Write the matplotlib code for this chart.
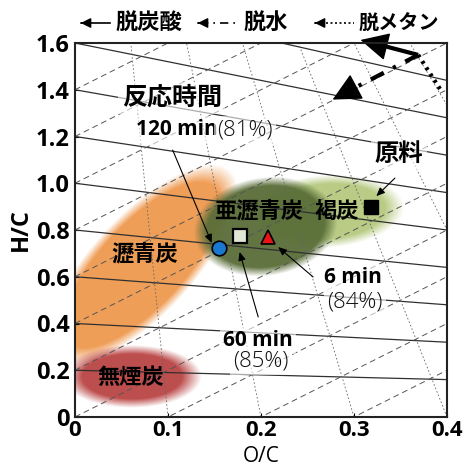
import matplotlib
matplotlib.use("Agg")
import matplotlib.pyplot as plt
import numpy as np

JP = ["Noto Sans CJK JP", "DejaVu Sans"]
NUM = ["Open Sans", "DejaVu Sans"]

# axis ticks
X_TICKS = [0, 0.1, 0.2, 0.3, 0.4]
X_TICK_LABELS = ["0", "0.1", "0.2", "0.3", "0.4"]
Y_TICKS = [0, 0.2, 0.4, 0.6, 0.8, 1.0, 1.2, 1.4, 1.6]
Y_TICK_LABELS = ["0", "0.2", "0.4", "0.6", "0.8", "1.0", "1.2", "1.4", "1.6"]

# decarboxylation lines: H/C at O/C=0 and at O/C=0.4
DECARB_LEFT = [0.2, 0.4, 0.6, 0.8, 1.0, 1.2, 1.4, 1.6, 1.8, 2.0]
DECARB_RIGHT = [0.16, 0.32, 0.48, 0.64, 0.80, 0.96, 1.12, 1.28, 1.44, 1.60]
# dehydration lines: H/C = 2*O/C + offset
DEHYD_OFFSET = [-0.8, -0.6, -0.4, -0.2, 0.0, 0.2, 0.4, 0.6, 0.8, 1.0, 1.2, 1.4]
DEHYD_SLOPE = 2.0
# demethanation lines: from (O/C, 0) toward CH4 at (0, 4)
DEMETH_BASE = [0.1, 0.2, 0.3, 0.4, 0.5, 0.6, 0.7]
DEMETH_APEX = (0.0, 4.0)

# coal rank regions: name, centre O/C, centre H/C
REGION_NAMES = ["褐炭", "瀝青炭", "亜瀝青炭", "無煙炭"]
REGION_OC = [0.271, 0.072, 0.205, 0.061]
REGION_HC = [0.880, 0.650, 0.815, 0.172]
REGION_COLORS = [(0.71, 0.79, 0.50), (0.94, 0.60, 0.31),
                 (0.35, 0.43, 0.22), (0.73, 0.27, 0.27)]
# semi axes in screen pixels and tilt in degrees
REGION_SIZE = [(68, 32, 4), (118, 46, 47), (66, 45, 8), (60, 27, 0)]

# samples
FEED_OC, FEED_HC = 0.318, 0.898
T6_OC, T6_HC = 0.2075, 0.770
T60_OC, T60_HC = 0.177, 0.774
T120_OC, T120_HC = 0.155, 0.723

fig = plt.figure(figsize=(4.64, 4.66), dpi=100)
ax = fig.add_axes([75 / 464, 1 - 417 / 466, 372 / 464, 374 / 466])
ax.set_xlim(0, 0.4)
ax.set_ylim(0, 1.6)

# soft coloured regions rendered as one RGBA image
nx, ny = 372, 374
sx, sy = nx / 0.4, ny / 1.6
gx, gy = np.meshgrid(np.linspace(0, 0.4, nx), np.linspace(0, 1.6, ny))
img = np.zeros((ny, nx, 4))
for cx, cy, col, (a, b, ang) in zip(REGION_OC, REGION_HC, REGION_COLORS, REGION_SIZE):
    u = (gx - cx) * sx
    v = (gy - cy) * sy
    t = np.deg2rad(ang)
    ur = u * np.cos(t) + v * np.sin(t)
    vr = -u * np.sin(t) + v * np.cos(t)
    r = np.sqrt((ur / a) ** 2 + (vr / b) ** 2)
    alpha = np.clip(0.5 - (r - 1) * b / 9.0, 0, 1) * 0.95
    for k in range(3):
        img[..., k] = col[k] * alpha + img[..., k] * (1 - alpha)
    img[..., 3] = alpha + img[..., 3] * (1 - alpha)
rgb = np.where(img[..., 3:] > 0, img[..., :3] / np.maximum(img[..., 3:], 1e-6), 1)
img[..., :3] = np.clip(rgb, 0, 1)
ax.imshow(img, extent=(0, 0.4, 0, 1.6), origin="lower", aspect="auto",
          interpolation="bilinear", zorder=1)

# reference lines
for hl, hr in zip(DECARB_LEFT, DECARB_RIGHT):
    ax.plot([0, 0.4], [hl, hr], lw=0.9, color="#303030", zorder=2)
for c in DEHYD_OFFSET:
    ax.plot([0, 0.4], [c, DEHYD_SLOPE * 0.4 + c], lw=0.7, color="#555555",
            linestyle=(0, (6, 4)), zorder=2)
for x0 in DEMETH_BASE:
    ax.plot([x0, DEMETH_APEX[0]], [0, DEMETH_APEX[1]], lw=0.6, color="#666666",
            linestyle=(0, (2, 2.5)), zorder=2)

# reaction pathway arrows
head = dict(arrowstyle="-|>,head_length=0.9,head_width=0.45", color="black",
            lw=1, mutation_scale=20, shrinkA=0, shrinkB=0)
origin = (0.369, 1.549)
ax.plot([origin[0], 0.322], [origin[1], 1.598], color="black", lw=3,
        solid_capstyle="butt", zorder=5, clip_on=False)
ax.annotate("", xy=(0.307, 1.613), xytext=(0.322, 1.598), zorder=5,
            annotation_clip=False, arrowprops=head)
ax.plot([origin[0], 0.292], [origin[1], 1.39], color="black", lw=3,
        linestyle=(0, (3.5, 2.5, 0.8, 2.5)), zorder=5)
ax.annotate("", xy=(0.277, 1.358), xytext=(0.292, 1.39), zorder=5,
            arrowprops=head)
ax.plot([origin[0], 0.393], [origin[1], 1.40], color="black", lw=3,
        linestyle=(0, (0.7, 1.1)), zorder=5)
ax.annotate("", xy=(0.404, 1.34), xytext=(0.393, 1.40), zorder=5,
            arrowprops=head)

# sample points
ax.plot(FEED_OC, FEED_HC, "s", ms=9.5, color="black", zorder=6)
ax.plot(T120_OC, T120_HC, "o", ms=10.5, mfc="#1b78d0", mec="black", mew=1.2, zorder=6)
ax.plot(T60_OC, T60_HC, "s", ms=10, mfc="#dfe6d6", mec="black", mew=1.6, zorder=6)
ax.plot(T6_OC, T6_HC, "^", ms=9.5, mfc="#e8141a", mec="black", mew=1.2, zorder=6)

# region labels
for name, x, y in zip(REGION_NAMES, [0.282, 0.075, 0.198, 0.060],
                      [0.881, 0.697, 0.881, 0.167]):
    ax.text(x, y, name, family=JP, weight="bold", fontsize=16,
            ha="center", va="center", zorder=7)

box = dict(boxstyle="square,pad=0.15", fc="white", ec="none", alpha=0.6)
arrow_kw = dict(arrowstyle="-|>,head_length=0.5,head_width=0.22",
                color="black", lw=0.8, mutation_scale=10, shrinkA=0, shrinkB=0)
bold_kw = dict(family=NUM, weight="bold", fontsize=15, va="center", zorder=7, bbox=box)
thin_kw = dict(family=NUM, weight="light", fontsize=16, color="#111111",
               va="center", zorder=7, bbox=box)

ax.text(0.104, 1.365, "反応時間", family=JP, weight="bold", fontsize=18,
        ha="center", va="center", zorder=7, bbox=box)
ax.text(0.153, 1.228, "120 min", ha="right", **bold_kw)
ax.text(0.153, 1.228, "(81%)", ha="left", **thin_kw)
ax.annotate("", xy=(T120_OC - 0.008, T120_HC + 0.022), xytext=(0.105, 1.142),
            arrowprops=arrow_kw, zorder=6)

ax.text(0.348, 1.125, "原料", family=JP, weight="bold", fontsize=17.5,
        ha="center", va="center", zorder=7, bbox=box)
ax.annotate("", xy=(FEED_OC + 0.006, FEED_HC + 0.047), xytext=(0.344, 1.022),
            arrowprops=arrow_kw, zorder=6)

ax.text(0.299, 0.595, "6 min", ha="center", **bold_kw)
ax.text(0.301, 0.492, "(84%)", ha="center", **thin_kw)
ax.annotate("", xy=(T6_OC + 0.011, T6_HC - 0.043), xytext=(0.256, 0.599),
            arrowprops=arrow_kw, zorder=6)

ax.text(0.197, 0.329, "60 min", ha="center", **bold_kw)
ax.text(0.200, 0.240, "(85%)", ha="center", **thin_kw)
ax.annotate("", xy=(T60_OC, T60_HC - 0.068), xytext=(0.197, 0.428),
            arrowprops=arrow_kw, zorder=6)

# axes styling
ax.set_xticks(X_TICKS)
ax.set_xticklabels(X_TICK_LABELS, family=NUM, weight="bold", fontsize=16)
ax.set_yticks(Y_TICKS)
ax.set_yticklabels(Y_TICK_LABELS, family=NUM, weight="bold", fontsize=17)
ax.tick_params(axis="x", direction="in", length=3, width=0.8, pad=2)
ax.tick_params(axis="y", direction="in", length=3, width=0.8, pad=4)
for s in ax.spines.values():
    s.set_linewidth(1.5)
    s.set_color("#222222")
    s.set_zorder(8)
ax.set_ylabel("H/C", family=NUM, weight="bold", fontsize=17, labelpad=2)


def fpx(x, y):
    return (x / 464, 1 - y / 466)


fig.text(*fpx(261, 456), "O/C", family=NUM, fontsize=15, ha="center", va="center")

# legend row above the plot
legend_items = [("脱炭酸", 78, 110, 149, "-", 16),
                ("脱水", 195, 236, 266, (0, (5, 3, 1, 3)), 16),
                ("脱メタン", 312, 354, 399, (0, (1.2, 1.5)), 14.5)]
for label, x_tip, x_tail, x_text, ls, size in legend_items:
    fig.add_artist(plt.Line2D([fpx(x_tip + 5, 0)[0], fpx(x_tail, 0)[0]],
                              [fpx(0, 23)[1]] * 2, color="black", lw=1.2,
                              linestyle=ls, transform=fig.transFigure))
    fig.add_artist(matplotlib.patches.FancyArrowPatch(
        fpx(x_tip + 6, 23), fpx(x_tip, 23), transform=fig.transFigure,
        arrowstyle="-|>,head_length=0.6,head_width=0.3", mutation_scale=10,
        color="black", lw=1))
    fig.text(*fpx(x_text, 23), label, family=JP, weight="bold", fontsize=size,
             ha="center", va="center")

fig.savefig("out.png", dpi=100)
